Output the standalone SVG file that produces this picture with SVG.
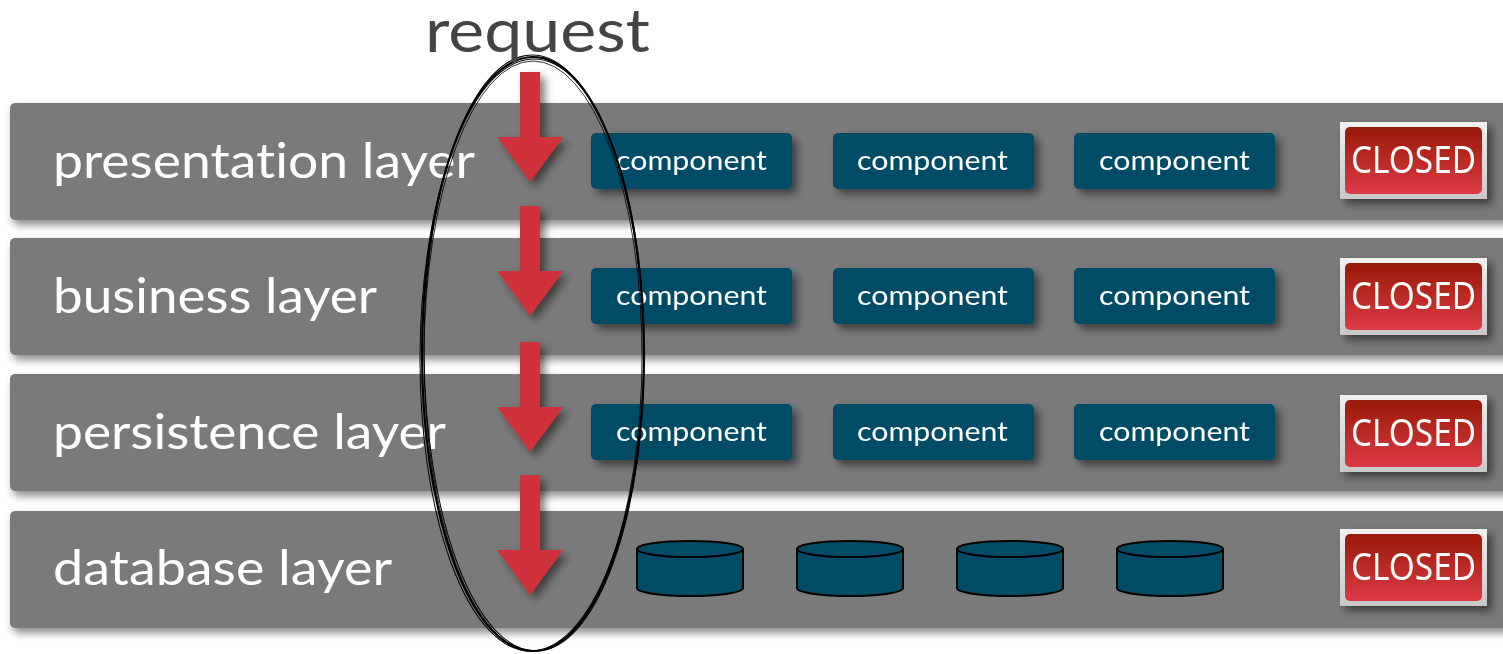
<svg xmlns="http://www.w3.org/2000/svg" width="1503" height="654" viewBox="0 0 1503 654">
  <defs>
    <filter id="barShadow" x="-5%" y="-20%" width="110%" height="150%">
      <feGaussianBlur in="SourceAlpha" stdDeviation="4"/>
      <feOffset dx="3" dy="5" result="b"/>
      <feComponentTransfer><feFuncA type="linear" slope="0.45"/></feComponentTransfer>
      <feMerge><feMergeNode/><feMergeNode in="SourceGraphic"/></feMerge>
    </filter>
    <filter id="boxShadow" x="-20%" y="-30%" width="140%" height="170%">
      <feGaussianBlur in="SourceAlpha" stdDeviation="4"/>
      <feOffset dx="5" dy="5" result="b"/>
      <feComponentTransfer><feFuncA type="linear" slope="0.5"/></feComponentTransfer>
      <feMerge><feMergeNode/><feMergeNode in="SourceGraphic"/></feMerge>
    </filter>
    <linearGradient id="redGrad" x1="0" y1="0" x2="0" y2="1">
      <stop offset="0" stop-color="#991a08"/>
      <stop offset="1" stop-color="#dc3a45"/>
    </linearGradient>
    <linearGradient id="frameGrad" x1="0" y1="0" x2="0" y2="1">
      <stop offset="0" stop-color="#f0f0f0"/>
      <stop offset="1" stop-color="#c8c8c8"/>
    </linearGradient>
    <g id="arrow">
      <path d="M-10,0 H10 V65 H33 L0,110 L-33,65 H-10 Z"/>
    </g>
    <g id="cyl">
      <path d="M-53,0 V39 A53,8 0 0 0 53,39 V0"/>
      <ellipse cx="0" cy="0" rx="53" ry="8"/>
    </g>
    <g id="closed">
      <rect x="0" y="0" width="147" height="77" fill="url(#frameGrad)"/>
      <rect x="5" y="5" width="137" height="67" rx="5" fill="url(#redGrad)"/>
      <text x="11" y="51" class="closedText" textLength="125" lengthAdjust="spacingAndGlyphs">CLOSED</text>
    </g>
  </defs>
  <style>
    text { font-variant-ligatures: none; }
    .bar { fill: #7a7a7a; }
    .layerText { font-family: Lato, "Noto Sans", sans-serif; font-size: 48px; fill: #ffffff; }
    .comp { fill: #004b66; }
    .compText { font-family: Lato, "Noto Sans", sans-serif; font-size: 27px; fill: #ffffff; }
    .closedText { font-family: "Noto Sans", "Open Sans", sans-serif; font-size: 38px; fill: #ffffff; }
    .arrow { fill: #d0313a; }
    .db { fill: #004b66; stroke: #000000; stroke-width: 2; }
    .loop { fill: none; stroke: #000000; }
  </style>

  <rect width="1503" height="654" fill="#ffffff"/>

  <!-- layer bars -->
  <g id="presentation-layer" filter="url(#barShadow)">
    <rect class="bar" x="10" y="103" width="1510" height="117" rx="5"/>
    <text class="layerText" x="53" y="178" textLength="422" lengthAdjust="spacingAndGlyphs">presentation layer</text>
  </g>
  <g id="business-layer" filter="url(#barShadow)">
    <rect class="bar" x="10" y="238" width="1510" height="117" rx="5"/>
    <text class="layerText" x="53" y="313" textLength="324" lengthAdjust="spacingAndGlyphs">business layer</text>
  </g>
  <g id="persistence-layer" filter="url(#barShadow)">
    <rect class="bar" x="10" y="374" width="1510" height="117" rx="5"/>
    <text class="layerText" x="53" y="449" textLength="393" lengthAdjust="spacingAndGlyphs">persistence layer</text>
  </g>
  <g id="database-layer" filter="url(#barShadow)">
    <rect class="bar" x="10" y="511" width="1510" height="117" rx="5"/>
    <text class="layerText" x="53" y="585" textLength="339" lengthAdjust="spacingAndGlyphs">database layer</text>
  </g>

  <!-- components -->
  <g id="components" filter="url(#boxShadow)">
    <g id="pres-c1"><rect class="comp" x="591" y="133" width="201" height="56" rx="5"/><text class="compText" x="616" y="170" textLength="151" lengthAdjust="spacingAndGlyphs">component</text></g>
    <g id="pres-c2"><rect class="comp" x="833" y="133" width="201" height="56" rx="5"/><text class="compText" x="857" y="170" textLength="151" lengthAdjust="spacingAndGlyphs">component</text></g>
    <g id="pres-c3"><rect class="comp" x="1074" y="133" width="201" height="56" rx="5"/><text class="compText" x="1099" y="170" textLength="151" lengthAdjust="spacingAndGlyphs">component</text></g>
    <g id="bus-c1"><rect class="comp" x="591" y="268" width="201" height="56" rx="5"/><text class="compText" x="616" y="305" textLength="151" lengthAdjust="spacingAndGlyphs">component</text></g>
    <g id="bus-c2"><rect class="comp" x="833" y="268" width="201" height="56" rx="5"/><text class="compText" x="857" y="305" textLength="151" lengthAdjust="spacingAndGlyphs">component</text></g>
    <g id="bus-c3"><rect class="comp" x="1074" y="268" width="201" height="56" rx="5"/><text class="compText" x="1099" y="305" textLength="151" lengthAdjust="spacingAndGlyphs">component</text></g>
    <g id="per-c1"><rect class="comp" x="591" y="404" width="201" height="56" rx="5"/><text class="compText" x="616" y="441" textLength="151" lengthAdjust="spacingAndGlyphs">component</text></g>
    <g id="per-c2"><rect class="comp" x="833" y="404" width="201" height="56" rx="5"/><text class="compText" x="857" y="441" textLength="151" lengthAdjust="spacingAndGlyphs">component</text></g>
    <g id="per-c3"><rect class="comp" x="1074" y="404" width="201" height="56" rx="5"/><text class="compText" x="1099" y="441" textLength="151" lengthAdjust="spacingAndGlyphs">component</text></g>
  </g>

  <!-- databases -->
  <g id="databases" class="db">
    <use href="#cyl" x="690" y="549"/>
    <use href="#cyl" x="850" y="549"/>
    <use href="#cyl" x="1010" y="549"/>
    <use href="#cyl" x="1170" y="549"/>
  </g>

  <!-- closed badges -->
  <g id="closed-badges" filter="url(#boxShadow)">
    <use href="#closed" x="1340" y="122"/>
    <use href="#closed" x="1340" y="258"/>
    <use href="#closed" x="1340" y="395"/>
    <use href="#closed" x="1340" y="529"/>
  </g>

  <!-- request flow -->
  <g id="connectors">
    <g class="arrow" filter="url(#boxShadow)">
      <use href="#arrow" x="530" y="72"/>
      <use href="#arrow" x="530" y="206"/>
      <use href="#arrow" x="530" y="342"/>
      <path d="M520,475 H540 V550 H563 L530,595 L497,550 H520 Z"/>
    </g>
    <!-- hand-drawn loop around the request path -->
    <g class="loop">
      <ellipse cx="533" cy="354" rx="111" ry="297" stroke-width="2.2"/>
      <ellipse cx="532" cy="355" rx="112" ry="296" stroke-width="1" transform="rotate(0.4 532 355)"/>
      <ellipse cx="534" cy="353" rx="110" ry="298" stroke-width="1" transform="rotate(-0.4 534 353)"/>
      <ellipse cx="533" cy="356" rx="109" ry="295" stroke-width="0.8"/>
    </g>
  </g>

  <g id="request-label">
    <text x="425" y="52" font-family="Lato, 'Noto Sans', sans-serif" font-size="60" fill="#444444" textLength="225" lengthAdjust="spacingAndGlyphs">request</text>
  </g>
</svg>
